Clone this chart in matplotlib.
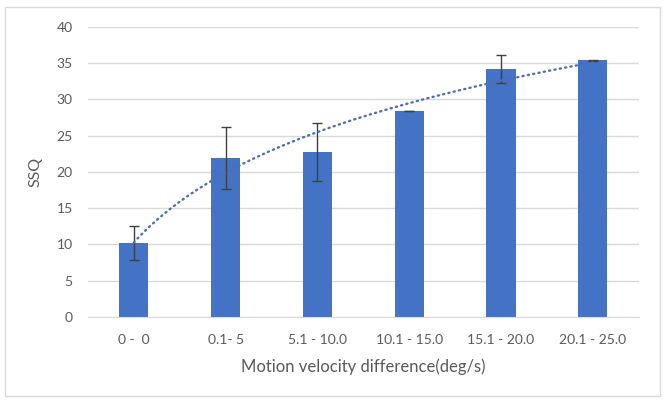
import numpy as np
import matplotlib.pyplot as plt
from matplotlib.patches import Rectangle

# velocity difference groups and SSQ means / error bars
categories = ['0 -  0', '0.1- 5', '5.1 - 10.0', '10.1 - 15.0', '15.1 - 20.0', '20.1 - 25.0']
ssq = [10.2, 21.9, 22.7, 28.4, 34.2, 35.4]
ssq_err = [2.4, 4.3, 4.0, 0.05, 1.9, 0.05]

plt.rcParams['font.family'] = ['Lato', 'DejaVu Sans']
grey_text = '#595959'
blue = '#4472C4'

fig = plt.figure(figsize=(6.66, 4.03), dpi=100)
ax = fig.add_axes([0.132, 0.2134, 0.827, 0.72])

x = np.arange(len(categories))
ax.bar(x, ssq, width=0.32, color=blue, zorder=2)
ax.errorbar(x, ssq, yerr=ssq_err, fmt='none', ecolor='#404040',
            elinewidth=1, capsize=3.5, capthick=1, zorder=3)

# logarithmic trendline (as Excel does it) fitted on category index 1..n
idx = x + 1
a, b = np.polyfit(np.log(idx), ssq, 1)
xt = np.linspace(1, len(categories), 200)
ax.plot(xt - 1, a * np.log(xt) + b, color='#4a6fb8', linestyle=(0, (0.5, 1.8)),
        linewidth=1.7, dash_capstyle='round', zorder=4)

ax.set_xlim(-0.5, len(categories) - 0.5)
ax.set_ylim(0, 40)
ax.set_yticks(range(0, 41, 5))
ax.set_xticks(x)
ax.set_xticklabels(categories)
ax.yaxis.grid(True, color='#D9D9D9', linewidth=1, zorder=0)
ax.set_axisbelow(True)
for s in ['top', 'right', 'left']:
    ax.spines[s].set_visible(False)
ax.spines['bottom'].set_color('#D9D9D9')
ax.tick_params(length=0, labelsize=10, labelcolor=grey_text, pad=12)
ax.tick_params(axis='y', pad=11)
ax.set_xlabel('Motion velocity difference(deg/s)', fontsize=12, color=grey_text, labelpad=9)
ax.set_ylabel('SSQ', fontsize=11.5, color=grey_text, labelpad=10)

# light chart-area border
fig.patches.append(Rectangle((0.008, 0.017), 0.983, 0.965, transform=fig.transFigure,
                             fill=False, edgecolor='#D9D9D9', linewidth=1))

fig.savefig('out.png', dpi=100)
